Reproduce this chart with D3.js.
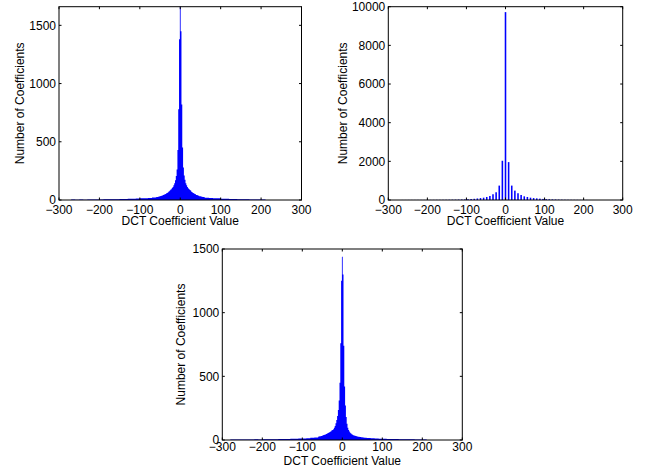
<!DOCTYPE html>
<html>
<head>
<meta charset="utf-8">
<script src="https://cdn.jsdelivr.net/npm/d3@7"></script>
<style>
  body { margin: 0; background: #fff; }
  svg text { font-family: "Liberation Sans", Arial, sans-serif; font-size: 12px; fill: #000; }
</style>
</head>
<body>
<svg id="chart" width="646" height="469"></svg>
<script>
// shared tick labels
const xTicks = [-300, -200, -100, 0, 100, 200, 300];
const yTicksSmall = [0, 500, 1000, 1500];
const yTicksLarge = [0, 2000, 4000, 6000, 8000, 10000];

// core bins (width 2) centred on -60..60, tail bins width 10
const coreCenters = d3.range(-60, 61, 2);

// panel 1 (top left)
const core1 = [23, 25, 26, 28, 30, 32, 35, 36, 39, 42, 45, 49, 52, 57, 61, 66, 73, 79, 88, 93, 103, 111, 126, 144, 170, 206, 262, 430, 780, 1380,
  1660,
  1450, 820, 450, 280, 210, 174, 144, 126, 111, 101, 95, 86, 81, 71, 67, 60, 57, 51, 49, 44, 43, 38, 37, 33, 32, 29, 28, 26, 25, 23];
const tailLeft1 = [4, 3, 4, 3, 4, 5, 4, 5, 6, 6, 7, 7, 8, 9, 10, 11, 13, 15, 16, 18, 21];
const tailRight1 = [20, 18, 15, 14, 11, 10, 9, 8, 7, 6, 6, 5, 5, 4, 4];

// panel 2 (top right): quantised coefficients, one bar every 8 units from -264 to 208
const bars2 = [3, 3, 4, 4, 4, 5, 5, 5, 6, 6, 7, 8, 9, 10, 12, 14, 16, 18,
  22, 26, 32, 40, 50, 62, 80, 100, 120, 156, 208, 297, 400, 745, 2030,
  9720,
  1960, 745, 485, 350, 260, 190, 156, 120, 100, 85, 70, 56, 45, 36, 30, 25, 20, 16, 13, 11, 9, 8, 7, 6, 5, 4];
const bars2Start = -264, bars2Step = 8;

// panel 3 (bottom)
const core3 = [26, 27, 29, 30, 32, 34, 37, 39, 41, 44, 48, 50, 54, 57, 61, 65, 69, 76, 79, 85, 96, 109, 131, 158, 188, 236, 310, 450, 760, 1250,
  1440,
  1300, 740, 420, 270, 180, 128, 96, 78, 66, 57, 51, 45, 41, 38, 35, 33, 31, 29, 28, 26, 25, 24, 23, 22, 21, 20, 19, 18, 18, 17];
const tailLeft3 = [4, 3, 4, 3, 4, 4, 5, 4, 5, 5, 6, 6, 7, 7, 8, 9, 10, 11, 12, 14, 17, 20];
const tailRight3 = [15, 13, 12, 10, 9, 8, 8, 7, 6, 6, 5, 5, 4, 4, 3];

const svg = d3.select("#chart");

function tailBins(vals, start) {
  return vals.map((v, i) => ({ lo: start + i * 10, hi: start + (i + 1) * 10, v: v }));
}
function coreBins(vals) {
  return vals.map((v, i) => ({ lo: coreCenters[i] - 1, hi: coreCenters[i] + 1, v: v }));
}

function drawPanel(p) {
  const x = d3.scaleLinear().domain([-300, 300]).range([p.left, p.right]);
  const y = d3.scaleLinear().domain([0, p.ymax]).range([p.bottom, p.top]);
  const g = svg.append("g");

  if (p.solid) {
    // contiguous bins: draw as one stepped shape so no seams show between thin bars
    const steps = [];
    p.bins.forEach(d => { steps.push({ x: d.lo, v: d.v }); steps.push({ x: d.hi, v: d.v }); });
    const area = d3.area()
      .x(d => x(d.x))
      .y0(y(0))
      .y1(d => y(d.v))
      .curve(d3.curveLinear);
    g.append("path")
      .datum(steps)
      .attr("d", area)
      .attr("fill", "#0000ff");
  } else {
    g.selectAll("rect.bar")
      .data(p.bins)
      .enter().append("rect")
      .attr("class", "bar")
      .attr("x", d => x(d.lo))
      .attr("width", d => x(d.hi) - x(d.lo))
      .attr("y", d => y(d.v))
      .attr("height", d => y(0) - y(d.v))
      .attr("fill", "#0000ff");
  }

  // box
  g.append("rect")
    .attr("x", p.left).attr("y", p.top)
    .attr("width", p.right - p.left).attr("height", p.bottom - p.top)
    .attr("fill", "none").attr("stroke", "#000").attr("stroke-width", 1);

  // inward ticks on all four sides
  const tl = 2.5;
  xTicks.forEach(t => {
    g.append("line").attr("x1", x(t)).attr("x2", x(t)).attr("y1", p.bottom).attr("y2", p.bottom - tl).attr("stroke", "#000");
    g.append("line").attr("x1", x(t)).attr("x2", x(t)).attr("y1", p.top).attr("y2", p.top + tl).attr("stroke", "#000");
    g.append("text").attr("x", x(t)).attr("y", p.xTickY).attr("text-anchor", "middle")
      .text(t < 0 ? "\u2212" + Math.abs(t) : t);
  });
  p.yTicks.forEach(t => {
    g.append("line").attr("x1", p.left).attr("x2", p.left + tl).attr("y1", y(t)).attr("y2", y(t)).attr("stroke", "#000");
    g.append("line").attr("x1", p.right).attr("x2", p.right - tl).attr("y1", y(t)).attr("y2", y(t)).attr("stroke", "#000");
    g.append("text").attr("x", p.left - 3).attr("y", y(t)).attr("dy", "0.35em").attr("text-anchor", "end").text(t);
  });

  g.append("text")
    .attr("x", (p.left + p.right) / 2).attr("y", p.xLabelY)
    .attr("text-anchor", "middle")
    .text("DCT Coefficient Value");
  g.append("text")
    .attr("transform", `translate(${p.yLabelX},${(p.top + p.bottom) / 2}) rotate(-90)`)
    .attr("text-anchor", "middle")
    .attr("dy", "0.35em")
    .text("Number of Coefficients");
}

drawPanel({
  left: 59, right: 301.5, top: 6.7, bottom: 200, ymax: 1660, yTicks: yTicksSmall,
  xTickY: 213.5, xLabelY: 224.5, yLabelX: 19.5, solid: true,
  bins: tailBins(tailLeft1, -270).concat(coreBins(core1), tailBins(tailRight1, 61))
});

drawPanel({
  left: 388.3, right: 622.7, top: 6.7, bottom: 200, ymax: 10000, yTicks: yTicksLarge,
  xTickY: 213.5, xLabelY: 224.5, yLabelX: 342.5, solid: false,
  bins: bars2.map((v, i) => {
    const c = bars2Start + i * bars2Step;
    return { lo: c - 2, hi: c + 2, v: v };
  })
});

drawPanel({
  left: 222.3, right: 462.3, top: 249, bottom: 440, ymax: 1500, yTicks: yTicksSmall,
  xTickY: 451, xLabelY: 464.5, yLabelX: 181, solid: true,
  bins: tailBins(tailLeft3, -280).concat(coreBins(core3), tailBins(tailRight3, 61))
});
</script>
</body>
</html>
